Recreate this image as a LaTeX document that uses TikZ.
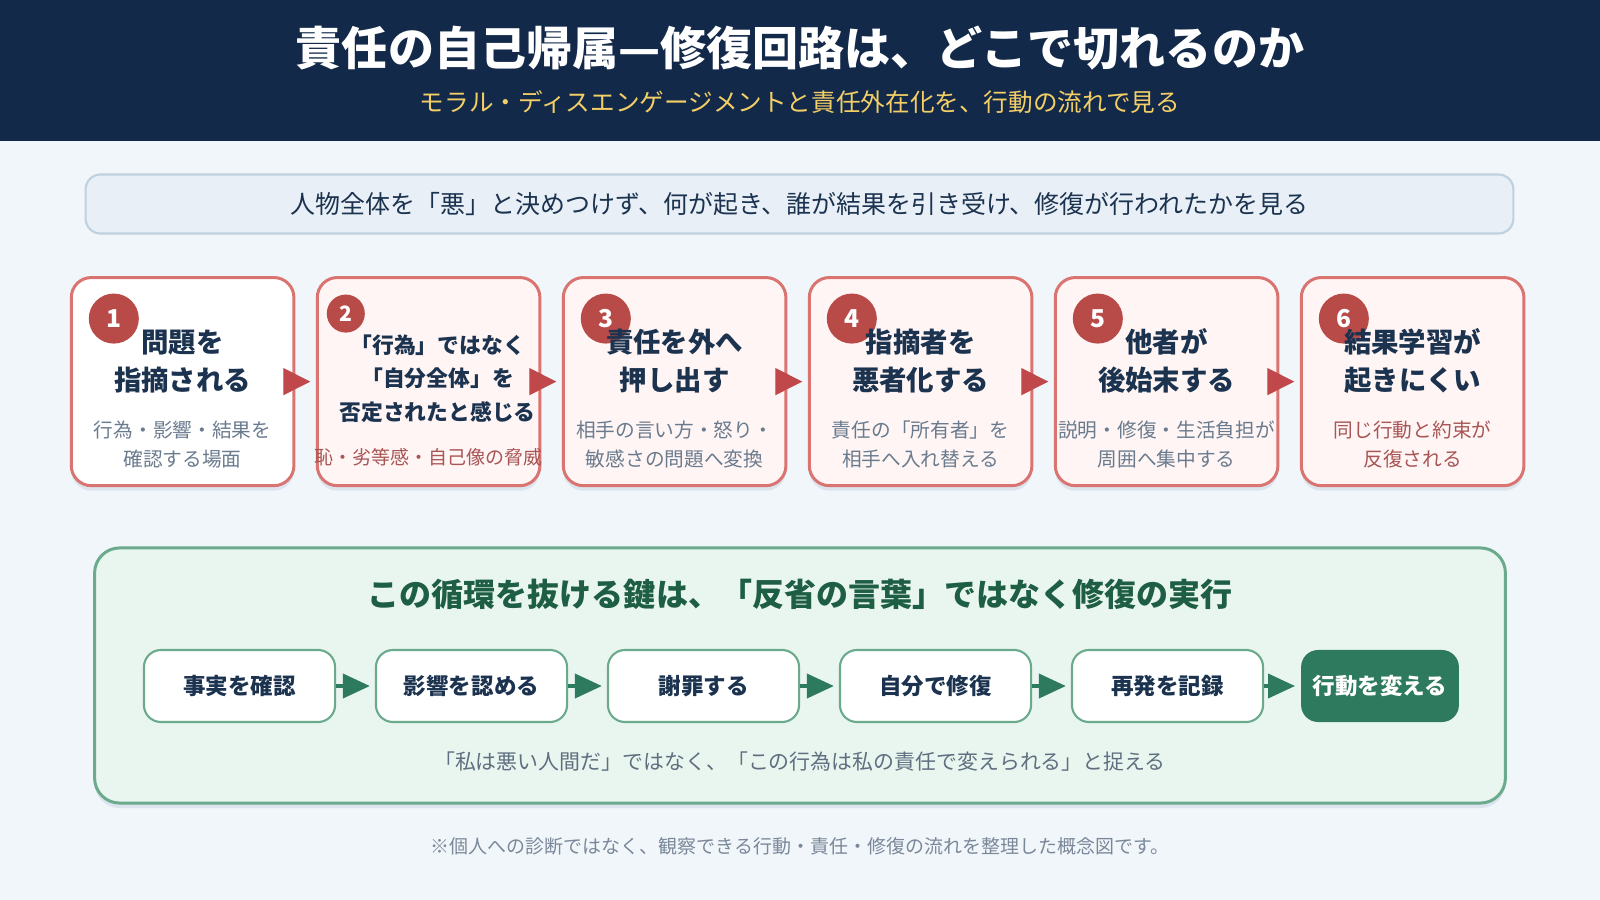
\documentclass[tikz,border=0pt]{standalone}
\usepackage{fontspec}
\setmainfont{Noto Sans CJK JP}
\usetikzlibrary{arrows.meta,shadows}

\definecolor{navy}{HTML}{13294A}
\definecolor{pagebg}{HTML}{F1F6FA}
\definecolor{gold}{HTML}{F4CF66}
\definecolor{ink}{HTML}{1C3350}
\definecolor{bannerfill}{HTML}{E8EFF6}
\definecolor{bannerline}{HTML}{BFD0E0}
\definecolor{cardline}{HTML}{D97471}
\definecolor{cardfill}{HTML}{FFF5F4}
\definecolor{badgered}{HTML}{B84A48}
\definecolor{stagered}{HTML}{C0474A}
\definecolor{subgray}{HTML}{6A7B8E}
\definecolor{subred}{HTML}{A85555}
\definecolor{repairfill}{HTML}{E9F6EF}
\definecolor{repairline}{HTML}{6BAA8C}
\definecolor{deepgreen}{HTML}{2E7A5E}
\definecolor{greentitle}{HTML}{1E5E45}
\definecolor{notegray}{HTML}{5F6F80}
\definecolor{footgray}{HTML}{7A8899}
\definecolor{shadowblue}{HTML}{9FB2C8}

\tikzset{
  softshadow/.style={drop shadow={shadow xshift=0pt, shadow yshift=-0.05cm,
    fill=shadowblue, opacity=0.25}},
  card/.style={draw=cardline, line width=0.85pt, fill=cardfill, rounded corners=0.2cm,
    minimum width=2.225cm, minimum height=2.08cm, softshadow},
  badge/.style={circle, fill=badgered, text=white, inner sep=0pt, minimum size=0.5cm,
    font=\fontsize{7}{8}\selectfont\bfseries},
  cardtitle/.style={text=ink, align=center, inner sep=0pt, font=\fontsize{7.8}{10.8}\selectfont\bfseries},
  cardsub/.style={align=center, inner sep=0pt, font=\fontsize{5.6}{8.1}\selectfont},
  stagearrow/.style={draw=stagered, line width=0.4pt, -{Triangle[length=0.27cm,width=0.27cm]}},
  actbox/.style={draw=repairline, line width=0.6pt, fill=white, rounded corners=0.17cm,
    minimum width=1.91cm, minimum height=0.72cm, text=ink, font=\fontsize{6.4}{8}\selectfont\bfseries},
  actarrow/.style={draw=deepgreen, line width=1.1pt, -{Triangle[length=0.27cm,width=0.24cm]}}
}

\begin{document}
\begin{tikzpicture}[x=0.01cm,y=-0.01cm]
  % Page background and header band.
  \fill[pagebg] (0,0) rectangle (1600,900);
  \fill[navy] (0,0) rectangle (1600,141);
  \node[text=white, font=\fontsize{13.1}{15}\selectfont\bfseries] (title) at (800,48)
    {責任の自己帰属—修復回路は、どこで切れるのか};
  \node[text=gold, font=\fontsize{7}{9}\selectfont] (subtitle) at (800,102)
    {モラル・ディスエンゲージメントと責任外在化を、行動の流れで見る};

  % Summary banner
  \node[draw=bannerline, line width=0.6pt, fill=bannerfill, rounded corners=0.15cm,
    minimum width=14.27cm, minimum height=0.59cm, text=ink,
    font=\fontsize{7.1}{9}\selectfont] (banner) at (799.5,204)
    {人物全体を「悪」と決めつけず、何が起き、誰が結果を引き受け、修復が行われたかを見る};

  % Six stage cards, left to right.
  \foreach \i/\cf in {1/white,2/cardfill,3/cardfill,4/cardfill,5/cardfill,6/cardfill}
    \node[card, fill=\cf] (card\i) at ({182.6+246*(\i-1)},381.6) {};

  % Number badges (the second one is smaller in the original).
  \foreach \i in {1,3,4,5,6}
    \node[badge] (badge\i) at ([xshift=0.44cm,yshift=-0.425cm]card\i.north west) {\i};
  \node[badge, minimum size=0.38cm, font=\fontsize{6}{7}\selectfont\bfseries] (badge2)
    at ([xshift=0.30cm,yshift=-0.375cm]card2.north west) {2};

  % Card titles and notes
  \foreach \i/\sc/\ttl/\sub in {%
      1/subgray/{問題を\\指摘される}/{行為・影響・結果を\\確認する場面},
      3/subgray/{責任を外へ\\押し出す}/{相手の言い方・怒り・\\敏感さの問題へ変換},
      4/subgray/{指摘者を\\悪者化する}/{責任の「所有者」を\\相手へ入れ替える},
      5/subgray/{他者が\\後始末する}/{説明・修復・生活負担が\\周囲へ集中する},
      6/subred/{結果学習が\\起きにくい}/{同じ行動と約束が\\反復される}} {
    \node[cardtitle] (ttl\i) at ([yshift=0.205cm]card\i.center) {\ttl};
    \node[cardsub, text=\sc] (sub\i) at ([yshift=-0.63cm]card\i.center) {\sub};
  }
  \node[cardtitle, font=\fontsize{6.2}{9.5}\selectfont\bfseries] (ttl2)
    at ([xshift=0.09cm,yshift=0.03cm]card2.center) {「行為」ではなく\\「自分全体」を\\否定されたと感じる};
  \node[cardsub, text=subred, font=\fontsize{5.4}{7}\selectfont] (sub2)
    at ([yshift=-0.755cm]card2.center) {恥・劣等感・自己像の脅威};

  % Red arrows between the cards
  \foreach \i/\j in {1/2,2/3,3/4,4/5,5/6}
    \draw[stagearrow] ([xshift=-0.09cm]card\i.east) -- ([xshift=-0.055cm]card\j.west);

  % Green repair panel
  \node[draw=repairline, line width=0.85pt, fill=repairfill, rounded corners=0.25cm,
    minimum width=14.1cm, minimum height=2.55cm, softshadow] (repair) at (800,675.5) {};
  \node[text=greentitle, font=\fontsize{9.1}{11}\selectfont\bfseries] (repairtitle) at (800,594)
    {この循環を抜ける鍵は、「反省の言葉」ではなく修復の実行};

  % Repair steps
  \foreach \i/\txt in {1/事実を確認,2/影響を認める,3/謝罪する,4/自分で修復,5/再発を記録}
    \node[actbox] (act\i) at ({239.5+232*(\i-1)},686) {\txt};
  \node[actbox, draw=none, fill=deepgreen, text=white, minimum width=1.5cm] (act6)
    at (1380,686) {行動を変える};
  \foreach \i/\j in {1/2,2/3,3/4,4/5,5/6}
    \draw[actarrow] (act\i.east) -- ([xshift=-0.05cm]act\j.west);

  \node[text=notegray, font=\fontsize{5.95}{7}\selectfont] (repairnote) at (800,762)
    {「私は悪い人間だ」ではなく、「この行為は私の責任で変えられる」と捉える};

  % Footnote
  \node[text=footgray, font=\fontsize{5.4}{7}\selectfont] (footnote) at (800,846)
    {※個人への診断ではなく、観察できる行動・責任・修復の流れを整理した概念図です。};
\end{tikzpicture}
\end{document}
